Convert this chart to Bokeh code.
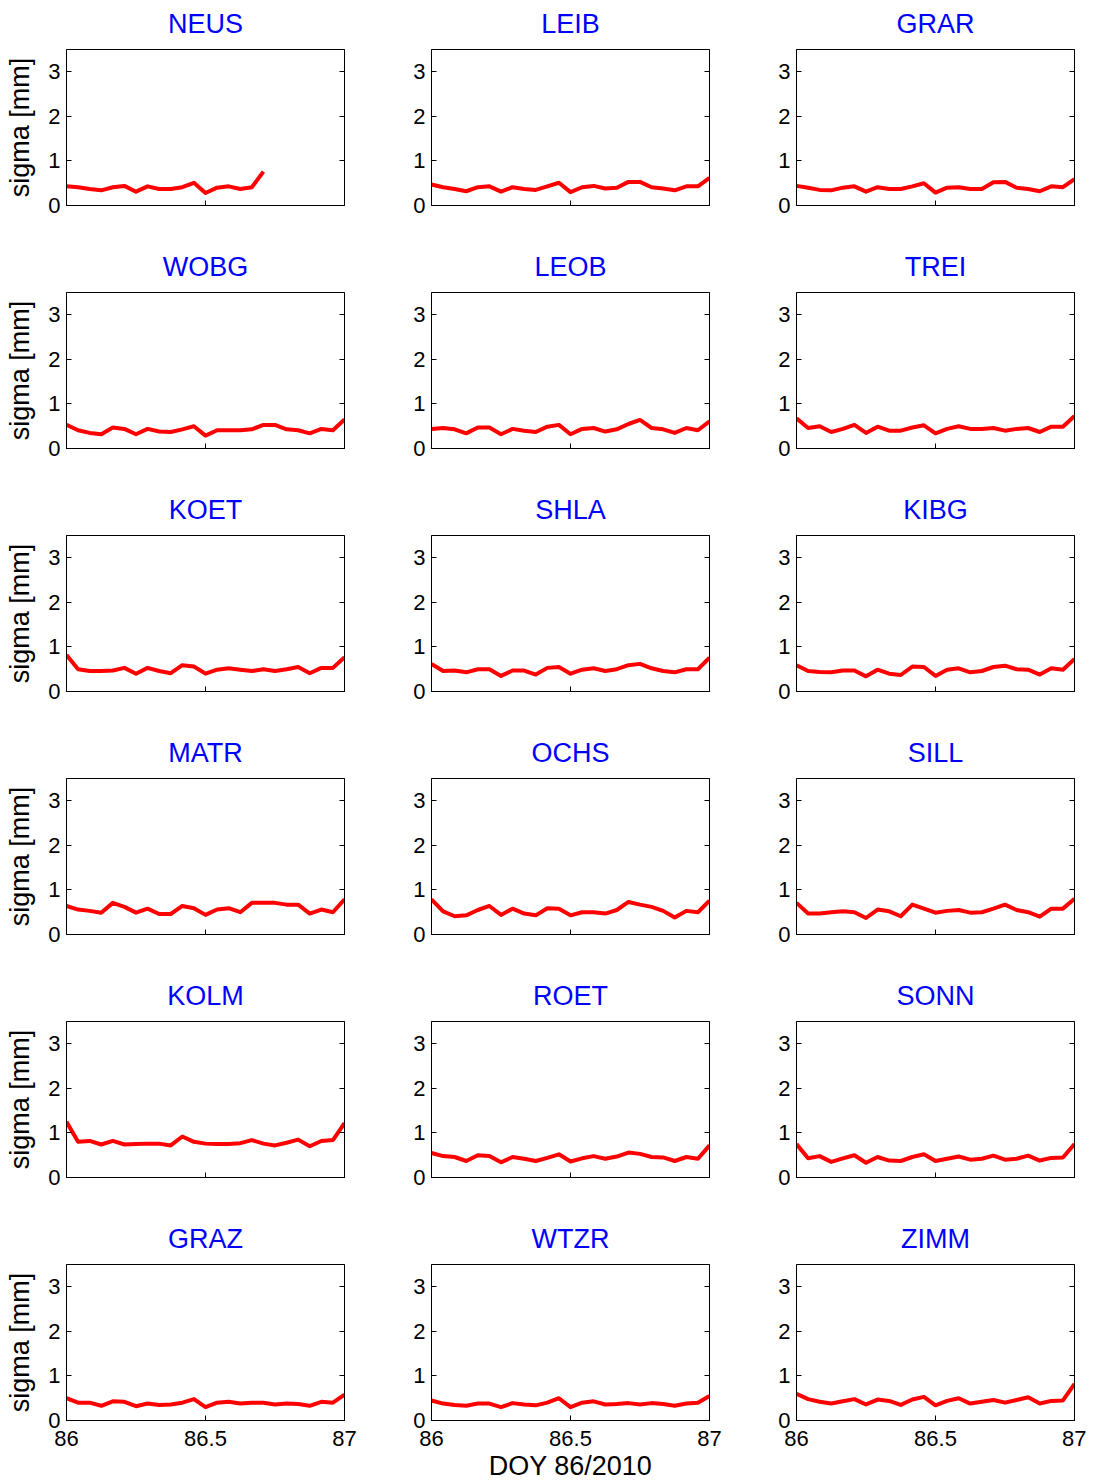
from bokeh.plotting import figure
from bokeh.models import Range1d, FixedTicker, LinearAxis, NumeralTickFormatter
from bokeh.layouts import gridplot
from bokeh.embed import file_html
from bokeh.resources import INLINE

# hourly epochs of day 86/2010
hours = list(range(25))
doy = [86 + h / 24 for h in hours]

stations = ["NEUS", "LEIB", "GRAR", "WOBG", "LEOB", "TREI",
            "KOET", "SHLA", "KIBG", "MATR", "OCHS", "SILL",
            "KOLM", "ROET", "SONN", "GRAZ", "WTZR", "ZIMM"]

NEUS = [0.43, 0.41, 0.37, 0.34, 0.41, 0.44, 0.31, 0.43, 0.37, 0.37, 0.41, 0.51,
        0.28, 0.40, 0.43, 0.37, 0.41, 0.76]
LEIB = [0.47, 0.41, 0.37, 0.32, 0.41, 0.43, 0.31, 0.41, 0.37, 0.35, 0.43, 0.51, 0.30,
        0.41, 0.44, 0.38, 0.40, 0.53, 0.53, 0.41, 0.38, 0.34, 0.43, 0.43, 0.62]
GRAR = [0.44, 0.40, 0.35, 0.34, 0.40, 0.43, 0.31, 0.41, 0.37, 0.37, 0.43, 0.50, 0.29,
        0.40, 0.41, 0.37, 0.37, 0.52, 0.53, 0.40, 0.37, 0.32, 0.43, 0.41, 0.59]
WOBG = [0.53, 0.41, 0.35, 0.32, 0.47, 0.44, 0.32, 0.44, 0.38, 0.37, 0.43, 0.50, 0.29,
        0.41, 0.41, 0.41, 0.43, 0.53, 0.53, 0.43, 0.41, 0.34, 0.44, 0.41, 0.65]
LEOB = [0.44, 0.46, 0.43, 0.34, 0.47, 0.47, 0.32, 0.44, 0.40, 0.37, 0.49, 0.53, 0.32,
        0.44, 0.46, 0.38, 0.43, 0.55, 0.64, 0.46, 0.43, 0.35, 0.46, 0.41, 0.61]
TREI = [0.68, 0.46, 0.50, 0.37, 0.44, 0.53, 0.35, 0.49, 0.40, 0.40, 0.47, 0.52, 0.34,
        0.44, 0.50, 0.44, 0.44, 0.46, 0.40, 0.44, 0.46, 0.37, 0.49, 0.49, 0.73]
KOET = [0.82, 0.50, 0.46, 0.46, 0.47, 0.53, 0.40, 0.53, 0.46, 0.41, 0.59, 0.56, 0.40,
        0.49, 0.52, 0.49, 0.46, 0.50, 0.46, 0.50, 0.55, 0.41, 0.53, 0.53, 0.77]
SHLA = [0.62, 0.46, 0.47, 0.43, 0.50, 0.50, 0.35, 0.47, 0.47, 0.38, 0.53, 0.55, 0.40,
        0.49, 0.52, 0.46, 0.50, 0.59, 0.62, 0.52, 0.46, 0.43, 0.50, 0.50, 0.76]
KIBG = [0.59, 0.46, 0.44, 0.43, 0.47, 0.47, 0.34, 0.49, 0.40, 0.37, 0.56, 0.55, 0.35,
        0.49, 0.52, 0.43, 0.46, 0.55, 0.58, 0.50, 0.49, 0.38, 0.52, 0.49, 0.73]
MATR = [0.64, 0.56, 0.53, 0.49, 0.71, 0.62, 0.49, 0.58, 0.46, 0.46, 0.64, 0.59, 0.44,
        0.56, 0.59, 0.50, 0.71, 0.71, 0.71, 0.67, 0.67, 0.47, 0.56, 0.50, 0.79]
OCHS = [0.79, 0.52, 0.41, 0.43, 0.55, 0.64, 0.44, 0.58, 0.47, 0.43, 0.59, 0.58, 0.43,
        0.50, 0.50, 0.47, 0.55, 0.73, 0.67, 0.62, 0.53, 0.38, 0.53, 0.50, 0.76]
SILL = [0.71, 0.47, 0.47, 0.50, 0.52, 0.50, 0.37, 0.56, 0.52, 0.41, 0.67, 0.58, 0.49,
        0.53, 0.55, 0.49, 0.50, 0.58, 0.67, 0.55, 0.50, 0.40, 0.58, 0.58, 0.80]
KOLM = [1.25, 0.80, 0.82, 0.74, 0.82, 0.74, 0.75, 0.76, 0.76, 0.72, 0.92, 0.80, 0.76,
        0.75, 0.75, 0.77, 0.84, 0.76, 0.72, 0.78, 0.85, 0.70, 0.82, 0.84, 1.22]
ROET = [0.55, 0.48, 0.46, 0.37, 0.50, 0.48, 0.34, 0.46, 0.42, 0.37, 0.44, 0.52, 0.36,
        0.43, 0.48, 0.42, 0.47, 0.56, 0.53, 0.46, 0.45, 0.37, 0.46, 0.42, 0.72]
SONN = [0.75, 0.43, 0.48, 0.35, 0.43, 0.50, 0.33, 0.46, 0.38, 0.37, 0.46, 0.52, 0.37,
        0.42, 0.47, 0.40, 0.42, 0.49, 0.40, 0.42, 0.49, 0.38, 0.44, 0.45, 0.75]
GRAZ = [0.50, 0.40, 0.40, 0.33, 0.43, 0.42, 0.32, 0.38, 0.35, 0.36, 0.40, 0.48, 0.30,
        0.40, 0.42, 0.38, 0.40, 0.40, 0.36, 0.38, 0.37, 0.33, 0.42, 0.40, 0.58]
WTZR = [0.45, 0.38, 0.35, 0.33, 0.38, 0.38, 0.30, 0.39, 0.36, 0.34, 0.40, 0.50, 0.30,
        0.40, 0.43, 0.36, 0.37, 0.39, 0.36, 0.39, 0.37, 0.33, 0.38, 0.40, 0.55]
ZIMM = [0.60, 0.48, 0.42, 0.38, 0.43, 0.48, 0.36, 0.47, 0.44, 0.35, 0.47, 0.53, 0.34,
        0.44, 0.50, 0.38, 0.42, 0.46, 0.40, 0.46, 0.52, 0.38, 0.44, 0.45, 0.82]

series = [NEUS, LEIB, GRAR, WOBG, LEOB, TREI, KOET, SHLA, KIBG,
          MATR, OCHS, SILL, KOLM, ROET, SONN, GRAZ, WTZR, ZIMM]

y_ticks = [0, 1, 2, 3]
x_ticks = [86, 86.5, 87]
x_label = "DOY 86/2010"
y_label = "sigma [mm]"

FONT = "Liberation Sans"
FRAME_W, FRAME_H = 278, 156
LEFT, TOP = 66, 49

rows = []
for i, (name, vals) in enumerate(zip(stations, series)):
    r, c = divmod(i, 3)
    last = (r == 5)
    w = 365 if c < 2 else 356
    h = 268 if last else 243
    p = figure(width=w, height=h, x_range=Range1d(86, 87), y_range=Range1d(0, 3.5),
               output_backend="svg", toolbar_location=None, title=name,
               min_border_left=LEFT, min_border_right=w - LEFT - FRAME_W,
               min_border_top=TOP, min_border_bottom=h - TOP - FRAME_H,
               x_axis_type=None, y_axis_type=None)
    p.title.text_font = FONT
    p.title.text_font_size = "27px"
    p.title.text_font_style = "normal"
    p.title.text_color = "#0000ff"
    p.title.align = "center"
    p.title.vertical_align = "top"
    p.title.standoff = 17
    p.outline_line_color = "black"
    p.outline_line_width = 1
    p.background_fill_color = "white"
    p.border_fill_color = "white"

    yax = LinearAxis(ticker=FixedTicker(ticks=y_ticks))
    yax.major_tick_in = 5
    yax.major_tick_out = 0
    yax.minor_tick_line_color = None
    yax.major_label_text_font = FONT
    yax.major_label_text_font_size = "22px"
    yax.major_label_text_color = "black"
    yax.major_label_standoff = 6
    yax.axis_line_color = "black"
    yax.major_tick_line_color = "black"
    if c == 0:
        yax.axis_label = y_label
        yax.axis_label_text_font = FONT
        yax.axis_label_text_font_size = "27px"
        yax.axis_label_text_font_style = "normal"
        yax.axis_label_text_color = "black"
        yax.axis_label_standoff = 10
    p.add_layout(yax, "left")

    rax = LinearAxis(ticker=FixedTicker(ticks=y_ticks))
    rax.major_tick_in = 5
    rax.major_tick_out = 0
    rax.minor_tick_line_color = None
    rax.major_label_text_font_size = "0px"
    rax.major_label_text_color = None
    rax.major_label_standoff = 0
    p.add_layout(rax, "right")

    xax = LinearAxis(ticker=FixedTicker(ticks=x_ticks),
                     formatter=NumeralTickFormatter(format="0.[0]"))
    xax.major_tick_in = 5
    xax.major_tick_out = 0
    xax.minor_tick_line_color = None
    xax.major_label_text_font = FONT
    xax.major_label_text_font_size = "22px"
    xax.major_label_text_color = "black"
    xax.major_label_standoff = 10
    if not last:
        xax.major_label_text_color = None
    if last and c == 1:
        xax.axis_label = x_label
        xax.axis_label_text_font = FONT
        xax.axis_label_text_font_size = "27px"
        xax.axis_label_text_font_style = "normal"
        xax.axis_label_text_color = "black"
        xax.axis_label_standoff = 2
    p.add_layout(xax, "below")

    p.line(doy[:len(vals)], vals, line_color="#ff0000", line_width=4,
           line_join="round")
    if c == 0:
        rows.append([])
    rows[-1].append(p)

grid = gridplot(rows, toolbar_location=None)
open("out.html", "w").write(file_html(grid, INLINE))
